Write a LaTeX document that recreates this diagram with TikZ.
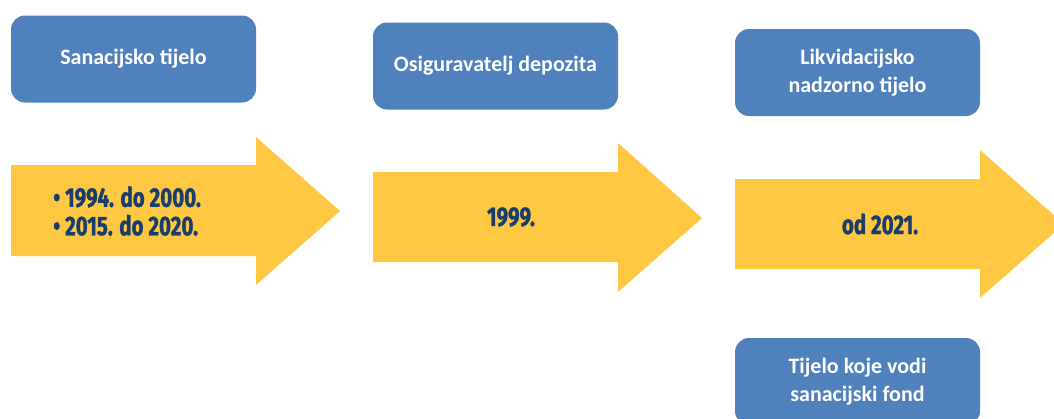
\documentclass[tikz,border=0pt]{standalone}
\usepackage{fontspec}
\setmainfont{Carlito}
\newfontfamily\yearfont[FakeStretch=0.76,BoldFeatures={FakeBold=1.2}]{Fira Sans}
\definecolor{boxblue}{HTML}{4F81BD}
\definecolor{arrowyellow}{HTML}{FFC843}
\definecolor{yeartext}{HTML}{1A3E6B}

\begin{document}
\begin{tikzpicture}[x=1pt,y=-1pt,
  body/.style={fill=boxblue, rounded corners=14pt, minimum width=245pt, minimum height=87pt,
    inner sep=0pt, text=white, align=center, font=\fontsize{22}{28}\selectfont\bfseries},
  period/.style={inner sep=0pt, text=yeartext, align=left,
    font=\yearfont\fontsize{27}{28.5}\selectfont\bfseries}]
\clip (0,0) rectangle (1054,418);
% blue boxes
\node[body] (sanacijsko) at (133.5,59) {Sanacijsko tijelo};
\node[body] (osiguravatelj) at (495.5,66) {Osiguravatelj depozita};
\node[body] (likvidacijsko) at (857.5,72.5) {Likvidacijsko\\nadzorno tijelo};
\node[body] (fond) at (857.5,381.5) {Tijelo koje vodi\\sanacijski fond};
% yellow arrows
\fill[arrowyellow] (11,165) -- (256,165) -- (256,137) -- (340,211) -- (256,285) -- (256,256) -- (11,256) -- cycle;
\fill[arrowyellow] (373,172) -- (618,172) -- (618,143) -- (702,218) -- (618,292) -- (618,262) -- (373,262) -- cycle;
\fill[arrowyellow] (735,179) -- (980,179) -- (980,150) -- (1064,224) -- (980,298) -- (980,269) -- (735,269) -- cycle;
% periods
\node[period, anchor=west] (prvo) at (53,211) {\textbullet\ 1994. do 2000.\\\textbullet\ 2015. do 2020.};
\node[period] (drugo) at (511,217) {1999.};
\node[period] (trece) at (880,224) {od 2021.};
\end{tikzpicture}
\end{document}
